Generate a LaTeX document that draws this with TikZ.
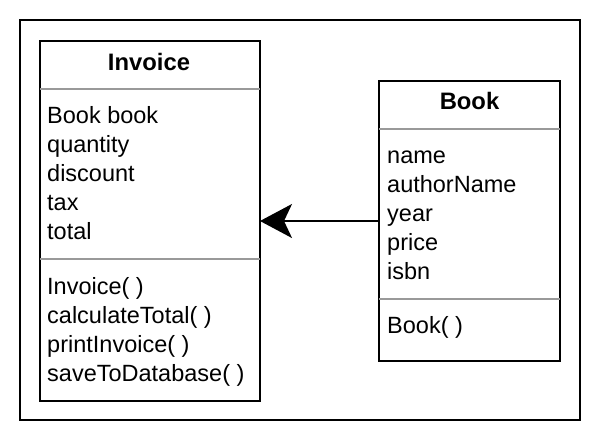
\documentclass[tikz,border=0pt]{standalone}
\usepackage{fontspec}
\setmainfont{Liberation Sans}
\usetikzlibrary{arrows.meta}
\definecolor{divgray}{HTML}{999999}
\begin{document}
\begin{tikzpicture}[x=1pt,y=-1pt,
  frame/.style={draw=black,line width=1.6pt,inner sep=0pt,outer sep=0pt,anchor=north west},
  classbox/.style={draw=black,line width=1.6pt,inner sep=0pt,outer sep=0pt,anchor=north west,fill=white},
  sep/.style={draw=divgray,line width=1.2pt},
  txt/.style={anchor=base west,inner sep=0pt,font=\fontsize{23.5}{29}\selectfont},
  ttl/.style={anchor=base,inner sep=0pt,font=\fontsize{23.8}{29}\selectfont\bfseries},
  assoc/.style={-{Stealth[length=32pt,width=34pt,inset=8pt]},line width=1.5pt}]
\useasboundingbox (0,0) rectangle (606,440);
\node[frame,minimum width=560pt,minimum height=400pt] (outer) at (20,20) {};
% Invoice class
\node[classbox,minimum width=220pt,minimum height=360pt] (inv) at (40,41) {};
\node[ttl] (invtitle) at (149,70) {Invoice};
\draw[sep] (inv.west |- 0,89) -- (inv.east |- 0,89);
\node[txt] (ia1) at (47,123) {Book book};
\node[txt] (ia2) at (47,152) {quantity};
\node[txt] (ia3) at (47,181) {discount};
\node[txt] (ia4) at (47,210) {tax};
\node[txt] (ia5) at (47,239) {total};
\draw[sep] (inv.west |- 0,259) -- (inv.east |- 0,259);
\node[txt] (im1) at (47,294) {Invoice( )};
\node[txt] (im2) at (47,323) {calculateTotal( )};
\node[txt] (im3) at (47,352) {printInvoice( )};
\node[txt] (im4) at (47,381) {saveToDatabase( )};
% Book class
\node[classbox,minimum width=181pt,minimum height=280pt] (book) at (379,81) {};
\node[ttl] (booktitle) at (469.5,109) {Book};
\draw[sep] (book.west |- 0,129) -- (book.east |- 0,129);
\node[txt] (ba1) at (387,163) {name};
\node[txt] (ba2) at (387,192) {authorName};
\node[txt] (ba3) at (387,221) {year};
\node[txt] (ba4) at (387,250) {price};
\node[txt] (ba5) at (387,279) {isbn};
\draw[sep] (book.west |- 0,299) -- (book.east |- 0,299);
\node[txt] (bm1) at (387,333) {Book( )};
% association
\draw[assoc] (book.west) -- (inv.east);
\end{tikzpicture}
\end{document}
